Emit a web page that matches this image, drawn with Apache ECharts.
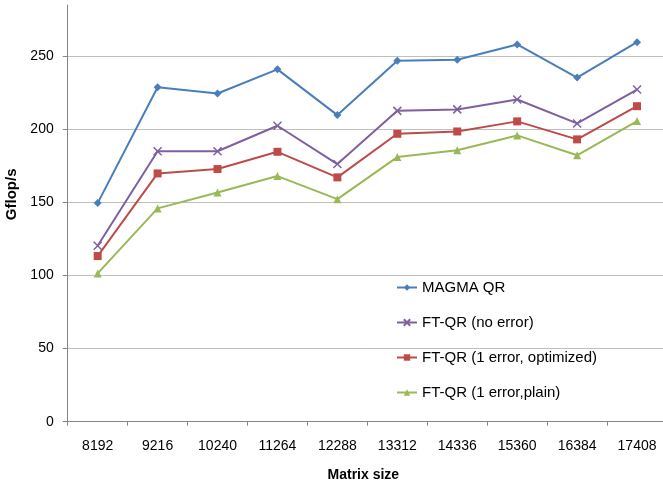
<!DOCTYPE html>
<html>
<head>
<meta charset="utf-8">
<script src="https://cdn.jsdelivr.net/npm/echarts@6/dist/echarts.min.js"></script>
<style>
  html, body { margin: 0; padding: 0; background: #fff; }
  #chart { width: 663px; height: 484px; }
</style>
</head>
<body>
<div id="chart"></div>
<script>
const matrixSizes = ['8192', '9216', '10240', '11264', '12288', '13312', '14336', '15360', '16384', '17408'];
const magmaQR = [149.5, 228.8, 224.5, 241, 209.7, 246.8, 247.5, 258, 235.4, 259.6];
const ftNoError = [120.3, 185, 185, 202.4, 176.2, 212.6, 213.6, 220.4, 204, 227.2];
const ftOptimized = [113.3, 169.8, 172.8, 184.6, 167.1, 196.9, 198.5, 205.4, 193.1, 215.8];
const ftPlain = [101.4, 145.9, 156.8, 168, 152.2, 181, 185.7, 195.8, 182.2, 205.6];

const font = 'Liberation Sans';
const crossPath = 'path://M0,0L10,10M10,0L0,10';

const myChart = echarts.init(document.getElementById('chart'));

const lineSeries = (name, data, color, symbol, size, extra) => ({
  name: name,
  type: 'line',
  data: data,
  symbol: symbol,
  symbolSize: size,
  showSymbol: true,
  lineStyle: { color: color, width: 2 },
  itemStyle: Object.assign({ color: color }, extra || {}),
  emphasis: { disabled: true },
  animation: false
});

myChart.setOption({
  animation: false,
  grid: {
    left: 67.7,
    right: -4,
    top: 5,
    bottom: 62.3,
    containLabel: false,
    outerBoundsMode: 'none'
  },
  legend: {
    orient: 'vertical',
    left: 396,
    top: 280,
    padding: 0,
    itemWidth: 20,
    itemHeight: 8,
    itemGap: 20,
    textStyle: { fontFamily: font, fontSize: 15, color: '#000' },
    data: ['MAGMA QR', 'FT-QR (no error)', 'FT-QR (1 error, optimized)', 'FT-QR (1 error,plain)']
  },
  xAxis: {
    type: 'category',
    data: matrixSizes,
    boundaryGap: true,
    name: 'Matrix size',
    nameLocation: 'middle',
    nameGap: 46,
    nameTextStyle: { fontFamily: font, fontSize: 14, fontWeight: 'bold', color: '#000', padding: [0, 8, 0, 0] },
    axisLine: { lineStyle: { color: '#868686', width: 1 } },
    axisTick: { show: true, inside: false, length: 4, lineStyle: { color: '#868686' } },
    axisLabel: { fontFamily: font, fontSize: 14, color: '#000', margin: 17 },
    splitLine: { show: false }
  },
  yAxis: {
    type: 'value',
    min: 0,
    max: 285,
    interval: 50,
    name: 'Gflop/s',
    nameLocation: 'middle',
    nameGap: 48,
    nameRotate: 90,
    nameTextStyle: { fontFamily: font, fontSize: 15, fontWeight: 'bold', color: '#000', padding: [0, 0, 0, 38] },
    axisLine: { show: true, lineStyle: { color: '#868686', width: 1 } },
    axisTick: { show: true, inside: false, length: 5, lineStyle: { color: '#868686' } },
    axisLabel: { fontFamily: font, fontSize: 14, color: '#000', margin: 14, showMaxLabel: false },
    splitLine: {
      show: true,
      lineStyle: {
        color: ['#868686', '#BFBFBF', '#BFBFBF', '#BFBFBF', '#BFBFBF', '#BFBFBF', 'rgba(0,0,0,0)'],
        width: 1
      }
    }
  },
  series: [
    lineSeries('MAGMA QR', magmaQR, '#4A7EBB', 'diamond', 8),
    lineSeries('FT-QR (no error)', ftNoError, '#7E60A0', crossPath, 8, { borderColor: '#7E60A0', borderWidth: 1.5 }),
    lineSeries('FT-QR (1 error, optimized)', ftOptimized, '#BE4B48', 'rect', 8),
    lineSeries('FT-QR (1 error,plain)', ftPlain, '#98B954', 'triangle', 8)
  ]
});
</script>
</body>
</html>
